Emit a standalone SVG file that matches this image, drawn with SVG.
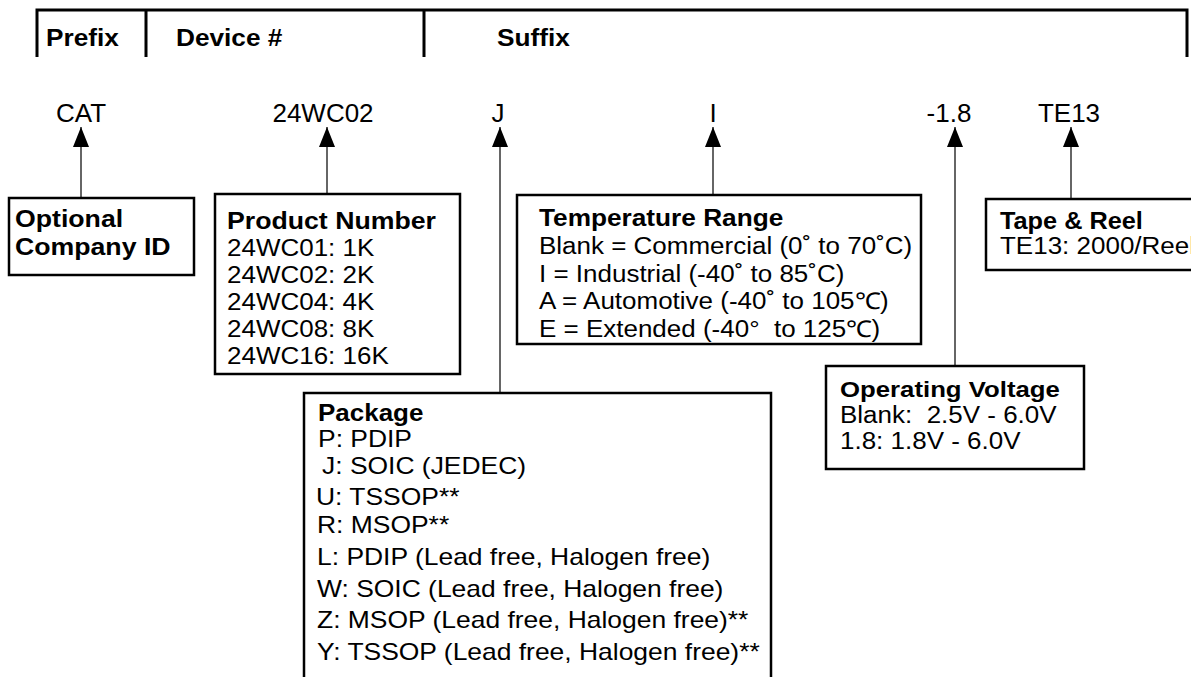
<svg xmlns="http://www.w3.org/2000/svg" width="1191" height="677" viewBox="0 0 1191 677">
<defs>
<style>
.box{fill:#fff;stroke:#000;stroke-width:2.5}
.hdr{fill:none;stroke:#000;stroke-width:3}
.conn{fill:none;stroke:#333;stroke-width:1.5}
text{font-family:"Liberation Sans",Arial,Helvetica,sans-serif;font-size:23px;fill:#000;white-space:pre}
.b{font-weight:bold}
.h{font-size:23px;font-weight:bold}
.code{font-size:26px;text-anchor:middle}
</style>
<marker id="arr" markerUnits="userSpaceOnUse" markerWidth="20" markerHeight="16" refX="20" refY="8" orient="auto">
<path d="M0,0 L20,8 L0,16 z" fill="#000"/>
</marker>
</defs>
<rect width="1191" height="677" fill="#fff"/>

<g id="header">
<path class="hdr" d="M37,57 V10 H1187 V57 M146,10 V57 M424,10 V57"/>
<text class="h" transform="translate(46,46) scale(1.14,1)">Prefix</text>
<text class="h" transform="translate(176,46) scale(1.14,1)">Device #</text>
<text class="h" transform="translate(497,46) scale(1.14,1)">Suffix</text>
</g>

<g id="codes">
<text class="code" x="81" y="122">CAT</text>
<text class="code" x="323" y="122">24WC02</text>
<text class="code" x="498" y="122">J</text>
<text class="code" x="713" y="122">I</text>
<text class="code" x="949" y="122">-1.8</text>
<text class="code" x="1069" y="122">TE13</text>
</g>

<g id="connectors">
<path class="conn" d="M81,198 V127" marker-end="url(#arr)"/>
<path class="conn" d="M327,194 V127" marker-end="url(#arr)"/>
<path class="conn" d="M500,393 V127" marker-end="url(#arr)"/>
<path class="conn" d="M713,195 V127" marker-end="url(#arr)"/>
<path class="conn" d="M955,366 V127" marker-end="url(#arr)"/>
<path class="conn" d="M1071,199 V127" marker-end="url(#arr)"/>
</g>

<g id="optional">
<rect class="box" x="9" y="198" width="185" height="77"/>
<text class="b" transform="translate(15,227) scale(1.16,1)">Optional</text>
<text class="b" transform="translate(15,255) scale(1.16,1)">Company ID</text>
</g>

<g id="product">
<rect class="box" x="215" y="194" width="245" height="180"/>
<text class="b" transform="translate(227,229) scale(1.16,1)">Product Number</text>
<text transform="translate(227,256) scale(1.13,1)">24WC01: 1K</text>
<text transform="translate(227,283) scale(1.13,1)">24WC02: 2K</text>
<text transform="translate(227,310) scale(1.13,1)">24WC04: 4K</text>
<text transform="translate(227,337) scale(1.13,1)">24WC08: 8K</text>
<text transform="translate(227,364) scale(1.13,1)">24WC16: 16K</text>
</g>

<g id="temperature">
<rect class="box" x="517" y="195" width="404" height="149"/>
<text class="b" transform="translate(539,226) scale(1.14,1)">Temperature Range</text>
<text transform="translate(539,254) scale(1.13,1)">Blank = Commercial (0˚ to 70˚C)</text>
<text transform="translate(539,282) scale(1.13,1)">I = Industrial (-40˚ to 85˚C)</text>
<text transform="translate(539,309) scale(1.13,1)">A = Automotive (-40˚ to 105℃)</text>
<text transform="translate(539,337) scale(1.13,1)">E = Extended (-40°  to 125℃)</text>
</g>

<g id="tape">
<rect class="box" x="986" y="199" width="230" height="71"/>
<text class="b" transform="translate(1000,229) scale(1.1,1)">Tape &amp; Reel</text>
<text transform="translate(1000,254) scale(1.13,1)">TE13: 2000/Reel</text>
</g>

<g id="voltage">
<rect class="box" x="826" y="366" width="258" height="103"/>
<text class="b" transform="translate(840,397) scale(1.12,1)">Operating Voltage</text>
<text transform="translate(840,423) scale(1.13,1)">Blank:  2.5V - 6.0V</text>
<text transform="translate(840,449) scale(1.13,1)">1.8: 1.8V - 6.0V</text>
</g>

<g id="package">
<rect class="box" x="304" y="393" width="467" height="300"/>
<text class="b" transform="translate(318,421) scale(1.13,1)">Package</text>
<text transform="translate(318,447) scale(1.15,1)">P: PDIP</text>
<text transform="translate(322,474) scale(1.15,1)">J: SOIC (JEDEC)</text>
<text transform="translate(316,505) scale(1.15,1)">U: TSSOP**</text>
<text transform="translate(317,533) scale(1.15,1)">R: MSOP**</text>
<text transform="translate(317,565) scale(1.15,1)">L: PDIP (Lead free, Halogen free)</text>
<text transform="translate(317,597) scale(1.15,1)">W: SOIC (Lead free, Halogen free)</text>
<text transform="translate(317,628) scale(1.15,1)">Z: MSOP (Lead free, Halogen free)**</text>
<text transform="translate(317,660) scale(1.15,1)">Y: TSSOP (Lead free, Halogen free)**</text>
</g>
</svg>
